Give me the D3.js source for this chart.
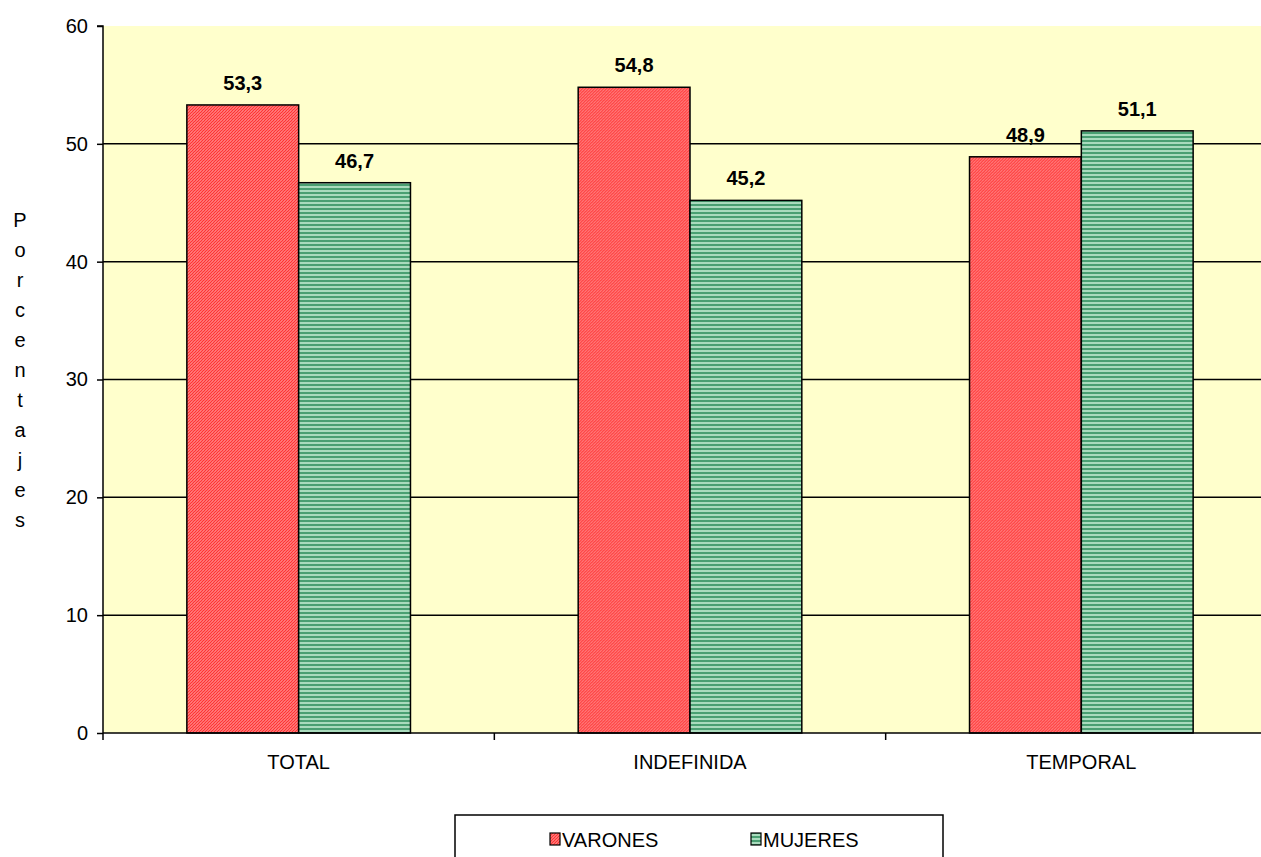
<!DOCTYPE html>
<html><head><meta charset="utf-8">
<script src="https://cdn.jsdelivr.net/npm/d3@7"></script>
<style>
html,body{margin:0;padding:0;background:#fff;overflow:hidden}
svg{display:block;font-family:"Liberation Sans",Arial,sans-serif}
</style></head><body>
<svg id="c" width="1261" height="857"></svg>
<script>
const categories = ["TOTAL","INDEFINIDA","TEMPORAL"];
const seriesNames = ["VARONES","MUJERES"];
const varones = [53.3, 54.8, 48.9];
const mujeres = [46.7, 45.2, 51.1];
const yTicks = [0,10,20,30,40,50,60];
const yTitle = "Porcentajes";

(function(){
const FS = 20;
const svg = d3.select("#c");
const defs = svg.append("defs");
const pr = defs.append("pattern").attr("id","pRed").attr("patternUnits","userSpaceOnUse")
  .attr("width",3).attr("height",3);
pr.append("rect").attr("width",3).attr("height",3).attr("fill","#ffffff");
pr.append("path").attr("d","M-1,1 L1,-1 M0,3 L3,0 M2,4 L4,2").attr("stroke","#ff3333").attr("stroke-width",1.6);
const pg = defs.append("pattern").attr("id","pGreen").attr("patternUnits","userSpaceOnUse")
  .attr("width",4).attr("height",4);
pg.append("rect").attr("width",4).attr("height",4).attr("fill","#a9dbbd");
pg.append("rect").attr("y",0).attr("width",4).attr("height",2).attr("fill","#4a9f72");

const pL = 103, pR = 1277, pT = 26, pB = 733;
const x0 = d3.scaleBand().domain(categories).range([pL,pR]);
const x1 = d3.scaleBand().domain(seriesNames).range([0, x0.bandwidth()]).paddingOuter(0.75).paddingInner(0);
const y = d3.scaleLinear().domain([0,60]).range([pB, pT]);

svg.append("rect").attr("x",pL).attr("y",pT).attr("width",pR-pL).attr("height",pB-pT).attr("fill","#ffffcc");

svg.append("g").selectAll("line").data(yTicks.filter(d=>d>0 && d<60)).join("line")
  .attr("x1",pL).attr("x2",pR).attr("y1",d=>y(d)).attr("y2",d=>y(d))
  .attr("stroke","#000").attr("stroke-width",1.5);

const data = categories.map((c,i)=>({cat:c, vals:[{s:"VARONES",v:varones[i]},{s:"MUJERES",v:mujeres[i]}]}));
const g = svg.append("g").selectAll("g").data(data).join("g")
  .attr("transform",d=>`translate(${x0(d.cat)},0)`);
g.selectAll("rect").data(d=>d.vals).join("rect")
  .attr("x",d=>x1(d.s)).attr("width",x1.bandwidth())
  .attr("y",d=>y(d.v)).attr("height",d=>y(0)-y(d.v))
  .attr("fill",d=>d.s==="VARONES"?"url(#pRed)":"url(#pGreen)")
  .attr("stroke","#000").attr("stroke-width",1.5);
g.selectAll("text").data(d=>d.vals).join("text")
  .attr("x",d=>x1(d.s)+x1.bandwidth()/2).attr("y",d=>y(d.v)-15)
  .attr("text-anchor","middle").attr("font-size",FS).attr("font-weight","bold")
  .text(d=>d.v.toFixed(1).replace(".",","));

const ya = svg.append("g").attr("transform",`translate(${pL},0)`)
  .call(d3.axisLeft(y).tickValues(yTicks).tickSize(6).tickPadding(9));
ya.select(".domain").attr("stroke","#000").attr("stroke-width",1.5).attr("d",`M-6,${pT}H0V${pB}`);
ya.selectAll(".tick line").attr("stroke","#000").attr("stroke-width",1.5);
ya.selectAll(".tick text").attr("font-size",FS).attr("fill","#000").attr("font-family","Liberation Sans, Arial, sans-serif");

const xa = svg.append("g").attr("transform",`translate(0,${pB})`)
  .call(d3.axisBottom(x0).tickSize(0).tickPadding(22));
xa.select(".domain").attr("stroke","#000").attr("stroke-width",1.5).attr("d",`M${pL},0H${pR}`);
xa.selectAll(".tick text").attr("font-size",FS).attr("fill","#000").attr("font-family","Liberation Sans, Arial, sans-serif");
svg.append("g").selectAll("line").data(categories.map(c=>x0(c))).join("line")
  .attr("x1",d=>d).attr("x2",d=>d).attr("y1",pB).attr("y2",pB+7)
  .attr("stroke","#000").attr("stroke-width",1.5);

svg.append("g").selectAll("text").data(yTitle.split("")).join("text")
  .attr("x",20).attr("y",(d,i)=>227+i*30).attr("text-anchor","middle")
  .attr("font-size",FS).text(d=>d);

const lg = svg.append("g");
lg.append("rect").attr("x",455).attr("y",815).attr("width",488).attr("height",60)
  .attr("fill","#fff").attr("stroke","#000").attr("stroke-width",1.5);
const li = [{s:"VARONES",x:550,f:"url(#pRed)"},{s:"MUJERES",x:751,f:"url(#pGreen)"}];
lg.selectAll("rect.sw").data(li).join("rect").attr("class","sw")
  .attr("x",d=>d.x).attr("y",833).attr("width",10).attr("height",12)
  .attr("fill",d=>d.f).attr("stroke","#000").attr("stroke-width",1.2);
lg.selectAll("text").data(li).join("text")
  .attr("x",d=>d.x+12).attr("y",847).attr("font-size",FS)
  .text(d=>d.s);
})();
</script>
</body></html>
